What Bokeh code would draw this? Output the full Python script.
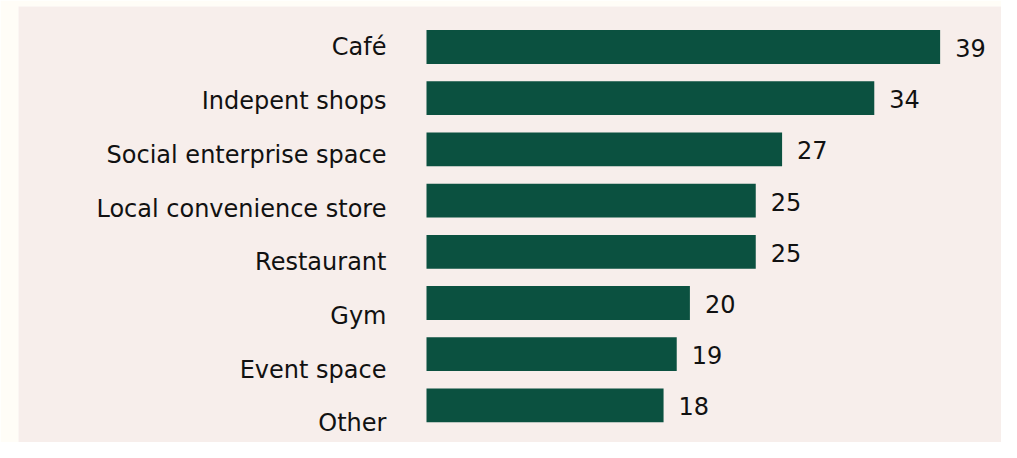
from bokeh.plotting import figure
from bokeh.models import ColumnDataSource, Range1d
from bokeh.core.properties import value
from bokeh.embed import file_html
from bokeh.resources import INLINE

categories = ["Café", "Indepent shops", "Social enterprise space", "Local convenience store",
              "Restaurant", "Gym", "Event space", "Other"]
counts = [39, 34, 27, 25, 25, 20, 19, 18]

n = len(categories)
ypos = [n - 1 - i for i in range(n)]
src = ColumnDataSource(dict(
    cat=categories, val=counts, y=ypos,
    lab=[str(v) for v in counts],
    loff=[0.5 + 2.5 * i for i in range(n)],
))

FONT = "DejaVu Sans"
p = figure(width=1001, height=442, output_backend="svg", toolbar_location=None,
           x_range=Range1d(-30.98, 43.66), y_range=Range1d(-0.725, n - 1 + 0.791),
           min_border_left=18, min_border_right=0, min_border_top=6, min_border_bottom=0)
p.background_fill_color = "#f7eeeb"
p.border_fill_color = "#fffdf7"
p.outline_line_color = None
p.axis.visible = False
p.grid.visible = False

p.hbar(y="y", right="val", left=0, height=0.66, source=src, fill_color="#0b5140", line_color=None)

p.text(x=-3.04, y="y", text="cat", source=src, text_align="right", text_baseline="middle",
       y_offset="loff", text_font=value(FONT), text_font_size="24px", text_color="#111111")
p.text(x="val", y="y", text="lab", source=src, text_align="left", text_baseline="middle",
       x_offset=15, y_offset=1, text_font=value(FONT), text_font_size="24px", text_color="#111111")

open("out.html", "w").write(file_html(p, INLINE))
